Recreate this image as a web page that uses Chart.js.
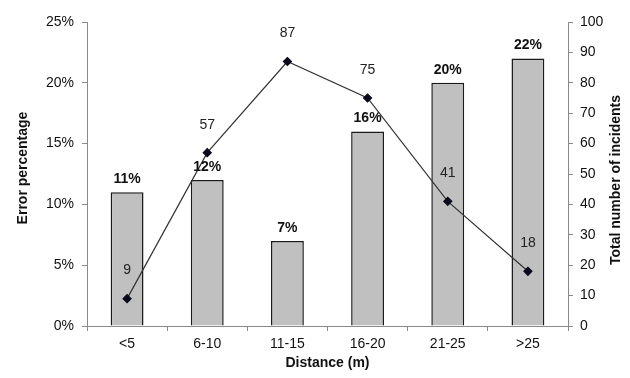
<!DOCTYPE html>
<html>
<head>
<meta charset="utf-8">
<script src="https://cdn.jsdelivr.net/npm/chart.js@4/dist/chart.umd.min.js"></script>
<style>
  html, body { margin: 0; padding: 0; background: #ffffff; }
  #wrap { width: 630px; height: 378px; }
</style>
</head>
<body>
<div id="wrap"><canvas id="c" width="630" height="378"></canvas></div>
<script>
// Distance bands and the two measured series
const categories = ['<5', '6-10', '11-15', '16-20', '21-25', '>25'];
const errorPercent = [11, 12, 7, 16, 20, 22];      // left axis, %
const incidentCounts = [9, 57, 87, 75, 41, 18];    // right axis, count
const leftTicks = [0, 5, 10, 15, 20, 25];
const rightTicks = [0, 10, 20, 30, 40, 50, 60, 70, 80, 90, 100];

const FONT = '"Liberation Sans", Arial, sans-serif';
const AXIS_GRAY = '#8a8a8a';
const TEXT = '#111111';

// Writes value labels above bars and points, plus both vertical axis titles
const valueLabels = {
  id: 'valueLabels',
  afterDatasetsDraw(chart) {
    const ctx = chart.ctx;
    ctx.save();
    ctx.textAlign = 'center';
    ctx.textBaseline = 'middle';
    ctx.fillStyle = TEXT;

    const barMeta = chart.getDatasetMeta(0);
    ctx.font = 'bold 14px ' + FONT;
    barMeta.data.forEach((el, i) => {
      ctx.fillText(errorPercent[i] + '%', el.x, el.y - 13);
    });

    const lineMeta = chart.getDatasetMeta(1);
    ctx.font = '14px ' + FONT;
    ctx.fillStyle = '#222222';
    lineMeta.data.forEach((el, i) => {
      ctx.fillText(String(incidentCounts[i]), el.x, el.y - 28);
    });

    // vertical axis titles, reading bottom to top
    ctx.font = 'bold 14px ' + FONT;
    ctx.fillStyle = TEXT;
    const drawVertical = (text, x, y) => {
      ctx.save();
      ctx.translate(x, y);
      ctx.rotate(-Math.PI / 2);
      ctx.fillText(text, 0, 0);
      ctx.restore();
    };
    drawVertical('Error percentage', 23, 168);
    drawVertical('Total number of incidents', 616, 180);
    ctx.restore();
  }
};

new Chart(document.getElementById('c'), {
  data: {
    labels: categories,
    datasets: [
      {
        type: 'bar',
        data: errorPercent,
        yAxisID: 'y',
        backgroundColor: '#c0c0c0',
        borderColor: '#1a1a1a',
        borderWidth: 1.5,
        barPercentage: 0.82,
        categoryPercentage: 0.5,
        order: 2
      },
      {
        type: 'line',
        data: incidentCounts,
        yAxisID: 'y1',
        borderColor: '#333333',
        borderWidth: 1.2,
        pointStyle: 'rectRot',
        pointRadius: 4,
        pointBackgroundColor: '#0a0a1e',
        pointBorderColor: '#0a0a1e',
        tension: 0,
        order: 1
      }
    ]
  },
  options: {
    responsive: false,
    animation: false,
    devicePixelRatio: 1,
    layout: { padding: { top: 22, left: 0, right: 0, bottom: 0 } },
    plugins: {
      legend: { display: false },
      tooltip: { enabled: false }
    },
    scales: {
      x: {
        offset: true,
        grid: { display: true, drawOnChartArea: false, drawTicks: true, tickLength: 5, color: AXIS_GRAY, offset: true },
        border: { display: true, color: AXIS_GRAY, width: 1 },
        ticks: { color: TEXT, font: { family: FONT, size: 14 }, padding: 5, maxRotation: 0 },
        title: { display: true, text: 'Distance (m)', color: TEXT, font: { family: FONT, size: 14, weight: 'bold' }, padding: { top: 2, bottom: 6 } },
        afterFit(scale) { scale.height = 52; }
      },
      y: {
        position: 'left',
        min: 0,
        max: 25,
        afterBuildTicks(scale) { scale.ticks = leftTicks.map(v => ({ value: v })); },
        grid: { display: true, drawOnChartArea: false, drawTicks: true, tickLength: 5, color: AXIS_GRAY },
        border: { display: true, color: AXIS_GRAY, width: 1 },
        ticks: { color: TEXT, font: { family: FONT, size: 14 }, padding: 8, callback: v => v + '%' },
        afterFit(scale) { scale.width = 87; }
      },
      y1: {
        position: 'right',
        min: 0,
        max: 100,
        afterBuildTicks(scale) { scale.ticks = rightTicks.map(v => ({ value: v })); },
        grid: { display: true, drawOnChartArea: false, drawTicks: true, tickLength: 5, color: AXIS_GRAY },
        border: { display: true, color: AXIS_GRAY, width: 1 },
        ticks: { color: TEXT, font: { family: FONT, size: 14 }, padding: 7 },
        afterFit(scale) { scale.width = 62; }
      }
    }
  },
  plugins: [valueLabels]
});
</script>
</body>
</html>
